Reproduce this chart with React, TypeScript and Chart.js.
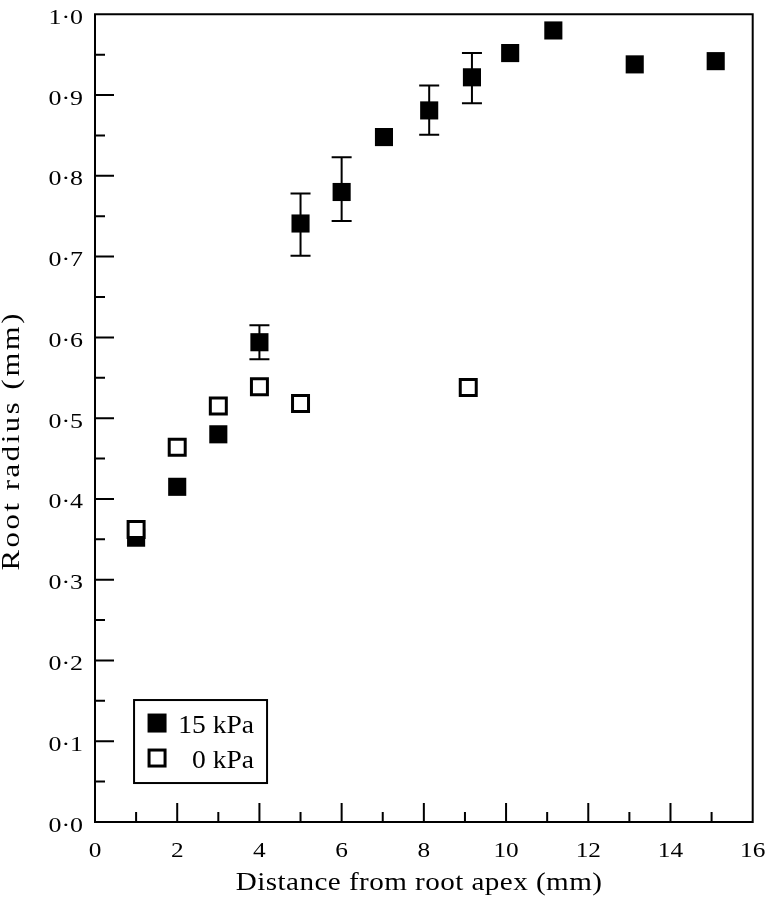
import React, { useEffect, useRef } from "react";
import { Chart, registerables } from "chart.js";

Chart.register(...registerables);

const xHigh = [1, 2, 3, 4, 5, 6, 7.03, 8.13, 9.17, 10.1, 11.15, 13.13, 15.1];
const yHigh = [0.352, 0.415, 0.48, 0.594, 0.741, 0.78, 0.848, 0.881, 0.922, 0.952, 0.98, 0.938, 0.942];
const errUpHigh = [null, null, null, 0.615, 0.778, 0.823, null, 0.912, 0.952, null, null, null, null];
const errLowHigh = [null, null, null, 0.573, 0.701, 0.744, null, 0.851, 0.89, null, null, null, null];

const xZero = [1, 2, 3, 4, 5, 9.08];
const yZero = [0.362, 0.464, 0.515, 0.539, 0.518, 0.538];

const xTickValues = [0, 2, 4, 6, 8, 10, 12, 14, 16];
const yTickValues = [0, 0.1, 0.2, 0.3, 0.4, 0.5, 0.6, 0.7, 0.8, 0.9, 1.0];

const legendLabels = ["15 kPa", "0 kPa"];
const xTitle = "Distance from root apex (mm)";
const yTitle = "Root radius (mm)";

const FONT = "'Liberation Serif', 'Times New Roman', serif";

function drawText(ctx: any, text: string, x: number, y: number, size: number, sx: number, sy: number, align: string, rot = 0, spacing = 0) {
  ctx.save();
  ctx.translate(x, y);
  if (rot) ctx.rotate(rot);
  ctx.scale(sx, sy);
  ctx.font = `${size}px ${FONT}`;
  if (spacing && "letterSpacing" in ctx) ctx.letterSpacing = `${spacing}px`;
  ctx.fillStyle = "#000";
  ctx.textAlign = align;
  ctx.textBaseline = "alphabetic";
  ctx.fillText(text, spacing && align === "center" ? spacing / 2 : 0, 0);
  ctx.restore();
}

const framePlugin = {
  id: "frame",
  afterDatasetsDraw(chart: any) {
    const ctx = chart.ctx;
    const xs = chart.scales.x;
    const ys = chart.scales.y;
    const { left, right, top, bottom } = chart.chartArea;
    ctx.save();
    ctx.strokeStyle = "#000";
    ctx.lineWidth = 2;
    // error bars
    const meta = chart.getDatasetMeta(1);
    meta.data.forEach((pt: any, i: number) => {
      const up = errUpHigh[i];
      const lo = errLowHigh[i];
      if (up == null || lo == null) return;
      const px = pt.x;
      const yu = ys.getPixelForValue(up);
      const yl = ys.getPixelForValue(lo);
      ctx.beginPath();
      ctx.moveTo(px, yu);
      ctx.lineTo(px, yl);
      ctx.moveTo(px - 10, yu);
      ctx.lineTo(px + 10, yu);
      ctx.moveTo(px - 10, yl);
      ctx.lineTo(px + 10, yl);
      ctx.stroke();
    });
    // frame
    ctx.beginPath();
    ctx.rect(left, top, right - left, bottom - top);
    ctx.stroke();
    // ticks (inward)
    ctx.beginPath();
    for (let i = 0; i < xTickValues.length; i++) {
      const v = xTickValues[i];
      const px = xs.getPixelForValue(v);
      if (i > 0 && i < xTickValues.length - 1) {
        ctx.moveTo(px, bottom);
        ctx.lineTo(px, bottom - 19);
      }
      if (i < xTickValues.length - 1) {
        const m = xs.getPixelForValue((v + xTickValues[i + 1]) / 2);
        ctx.moveTo(m, bottom);
        ctx.lineTo(m, bottom - 10);
      }
    }
    for (let i = 0; i < yTickValues.length; i++) {
      const v = yTickValues[i];
      const py = ys.getPixelForValue(v);
      if (i > 0 && i < yTickValues.length - 1) {
        ctx.moveTo(left, py);
        ctx.lineTo(left + 19, py);
      }
      if (i < yTickValues.length - 1) {
        const m = ys.getPixelForValue((v + yTickValues[i + 1]) / 2);
        ctx.moveTo(left, m);
        ctx.lineTo(left + 10, m);
      }
    }
    ctx.stroke();

    // tick labels
    xTickValues.forEach((v) => {
      drawText(ctx, String(v), xs.getPixelForValue(v), bottom + 35, 22, 1.15, 1, "center");
    });
    yTickValues.forEach((v) => {
      drawText(ctx, v.toFixed(1).replace(".", "\u00b7"), left - 12, ys.getPixelForValue(v) + 9.5, 22, 1.18, 1, "right");
    });
    // axis titles
    drawText(ctx, xTitle, (left + right) / 2 - 5, bottom + 68, 26, 1.12, 1, "center", 0, 0.4);
    drawText(ctx, yTitle, 19, 442, 26, 1.18, 1, "center", -Math.PI / 2, 2.2);

    // legend
    const lx = xs.getPixelForValue(0.95);
    const ly = ys.getPixelForValue(0.151);
    const lw = 133;
    const lh = 83;
    ctx.lineWidth = 2;
    ctx.fillStyle = "#fff";
    ctx.fillRect(lx, ly, lw, lh);
    ctx.strokeRect(lx, ly, lw, lh);
    const mx = lx + 23;
    const row1 = ly + 23;
    const row2 = ly + 58;
    ctx.fillStyle = "#000";
    ctx.fillRect(mx - 9.5, row1 - 9.5, 19, 19);
    ctx.lineWidth = 3;
    ctx.strokeRect(mx - 8, row2 - 8, 16, 16);
    drawText(ctx, legendLabels[0], lx + 120, row1 + 10, 26, 1.06, 1, "right");
    drawText(ctx, legendLabels[1], lx + 120, row2 + 10, 26, 1.06, 1, "right");
    ctx.restore();
  },
};

export default function App() {
  const ref = useRef<HTMLCanvasElement>(null);
  useEffect(() => {
    if (!ref.current) return;
    const chart = new Chart(ref.current, {
      type: "scatter",
      data: {
        datasets: [
          {
            label: legendLabels[1],
            data: xZero.map((x, i) => ({ x, y: yZero[i] })),
            pointStyle: "rect",
            pointRadius: 11.3,
            pointBorderWidth: 3,
            pointBackgroundColor: "#fff",
            pointBorderColor: "#000",
            order: 0,
            clip: false,
          },
          {
            label: legendLabels[0],
            data: xHigh.map((x, i) => ({ x, y: yHigh[i] })),
            pointStyle: "rect",
            pointRadius: 12.8,
            pointBorderWidth: 0,
            pointBackgroundColor: "#000",
            pointBorderColor: "#000",
            order: 1,
            clip: false,
          },
        ],
      },
      options: {
        responsive: false,
        animation: false,
        events: [],
        layout: { padding: { top: 10, right: 14, left: 0, bottom: 0 } },
        plugins: { legend: { display: false }, tooltip: { enabled: false } },
        scales: {
          x: {
            type: "linear",
            min: 0,
            max: 16,
            grid: { display: false, drawTicks: false },
            border: { display: false },
            ticks: { display: false },
            afterFit: (s: any) => {
              s.height = 77;
              s.paddingLeft = 0;
              s.paddingRight = 0;
            },
          },
          y: {
            type: "linear",
            min: 0,
            max: 1,
            grid: { display: false, drawTicks: false },
            border: { display: false },
            ticks: { display: false },
            afterFit: (s: any) => {
              s.width = 95;
              s.paddingTop = 0;
              s.paddingBottom = 0;
            },
          },
        },
      },
      plugins: [framePlugin],
    });
    return () => chart.destroy();
  }, []);
  return (
    <div style={{ position: "absolute", left: 0, top: 0, width: 767, height: 899, background: "#fff" }}>
      <canvas ref={ref} width={767} height={899} style={{ display: "block" }} />
    </div>
  );
}
